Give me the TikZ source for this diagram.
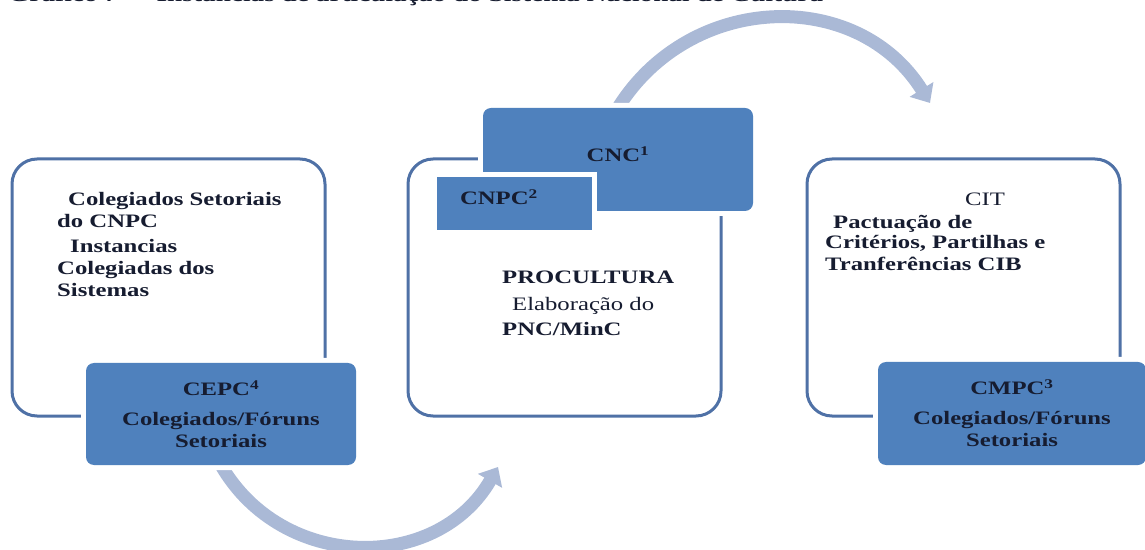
\documentclass[tikz,border=0pt]{standalone}
\usepackage{fontspec}
\setmainfont{Liberation Serif}[FakeStretch=1.3]
\usetikzlibrary{positioning}
\usetikzlibrary{arrows.meta}
\usetikzlibrary{backgrounds}
\definecolor{boxblue}{RGB}{79,129,189}
\definecolor{edgeblue}{RGB}{79,113,166}
\definecolor{arrowblue}{RGB}{170,185,214}
\definecolor{ink}{RGB}{22,28,48}
\newcommand{\diagfont}{\fontsize{19}{22}\selectfont}

\tikzset{
  panel/.style={draw=edgeblue, line width=3pt, fill=white, rounded corners=25pt,
    minimum width=313pt, minimum height=257pt, inner sep=0pt},
  tab/.style={fill=boxblue, rounded corners=8pt, preaction={draw=white, line width=10pt},
    text=ink, font=\diagfont\bfseries, align=center, inner sep=0pt},
  txt/.style={text=ink, font=\diagfont\bfseries, align=left, inner sep=0pt, anchor=north west},
  bigarrow/.style={draw=arrowblue, line width=13pt, -{Triangle[length=16pt,width=27pt]}},
}

\begin{document}
\begin{tikzpicture}[x=1pt, y=1pt]
        \useasboundingbox (0,0) rectangle (1145,549);
        \clip (0,0) rectangle (1145,549);

        % title %
        \node[anchor=base west, inner sep=0pt, text=ink, font=\fontsize{21}{24}\selectfont\bfseries] (title) at (8,547.5)
          {Gráfico 7 –\hspace*{18pt}Instancias de articulação do Sistema Nacional de Cultura};

        % panels %
        \node[panel] (left) at (168.5,261.5) {};
        \node[panel, right=80pt of left] (middle) {};
        \node[panel, right=83pt of middle] (right) {};

        % tabs %
        \node[tab, minimum width=270pt, minimum height=102pt] (cepc) at (221,135)
          {CEPC\textsuperscript{4}\\[8pt]Colegiados/Fóruns\\Setoriais};
        \node[tab, minimum width=268pt, minimum height=103pt] (cmpc) at (1012,135.5)
          {CMPC\textsuperscript{3}\\[8pt]Colegiados/Fóruns\\Setoriais};
        \node[tab, minimum width=270pt, minimum height=103pt, text height=13pt, text depth=8pt] (cnc) at (618,389.5)
          {CNC\textsuperscript{1}};
        \node[tab, sharp corners, minimum height=53pt, inner xsep=23pt, text width=109pt, align=left,
          text height=13pt, text depth=10pt] (cnpc) at (514.5,345.5) {CNPC\textsuperscript{2}};

        % texts %
        \node[txt] (leftText) at (57,357)
          {\hspace*{11pt}Colegiados Setoriais\\do CNPC\\[3pt]\hspace*{13pt}Instancias\\Colegiadas dos\\Sistemas};
        \node[txt] (middleText) at (502,278.6)
          {PROCULTURA\\[5pt]{\mdseries\hspace*{10pt}Elaboração do}\\[3pt]PNC/MinC};
        \node[txt] (rightText) at (825,356.6)
          {\hspace*{140pt}{\mdseries CIT}\\[1pt]\hspace*{8pt}Pactuação de\\[-2pt]Critérios, Partilhas e\\Tranferências CIB};

        % arrows %
        \coordinate (lowTip) at (498,82);
        \coordinate (highTip) at (930,446);
        \begin{pgfonlayer}{background}
        \draw[bigarrow] (cepc.south) to[out=-60, in=-120, looseness=1.13] (lowTip);
        \draw[bigarrow] (cnc.north) to[out=58, in=122, looseness=1.12] (highTip);
        \end{pgfonlayer}
\end{tikzpicture}
\end{document}
